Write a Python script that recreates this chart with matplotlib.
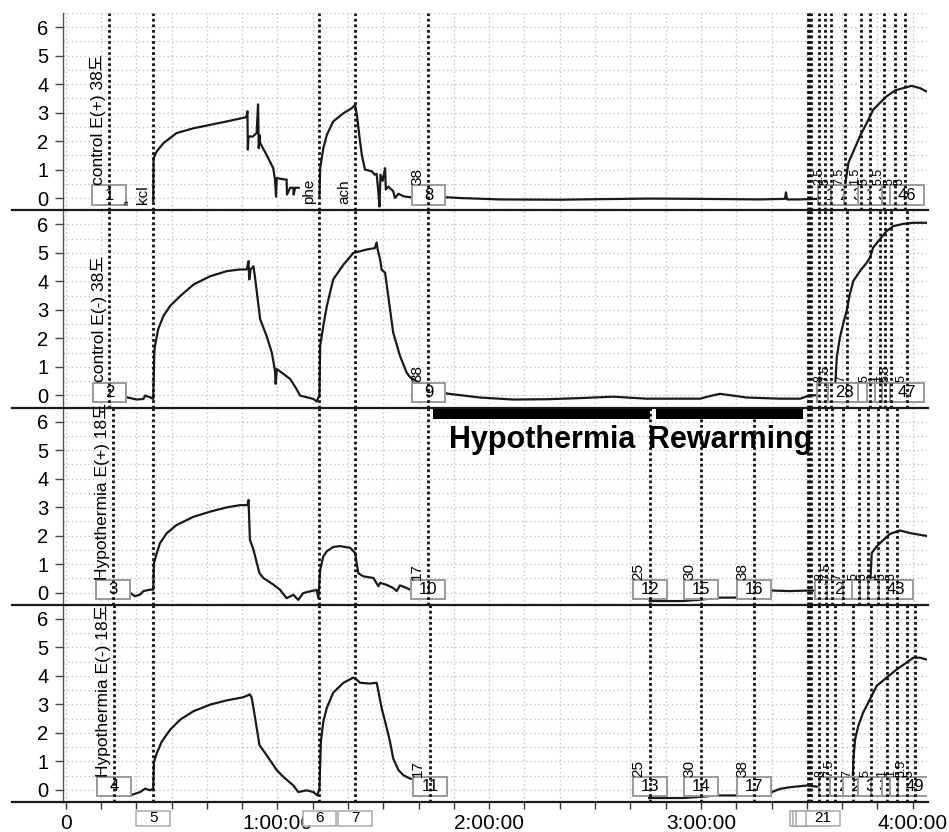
import numpy as np
import matplotlib
matplotlib.use("Agg")
import matplotlib.pyplot as plt
from matplotlib.patches import Rectangle
from matplotlib.lines import Line2D

plt.rcParams['font.family'] = ['Liberation Sans', 'Noto Sans CJK KR', 'DejaVu Sans']

# time in minutes, tension in g
NAN = (np.nan, np.nan)

trace_ctrl_pos = [
    (24.8, -0.10), (24.9, 1.40), (25.8, 1.64), (27.7, 1.93), (31.4, 2.28), (36.2, 2.45),
    (40.9, 2.57), (45.6, 2.69), (50.8, 2.83), (51.2, 2.85), (51.5, 3.05), (51.6, 1.70),
    (51.8, 2.16), (53.0, 2.16), (54.1, 2.28), (54.5, 3.29), (54.7, 1.75), (55.0, 2.20),
    (55.1, 1.93), (56.9, 1.52), (58.8, 1.05), (59.3, 0.65), (59.6, 0.05), (59.8, 0.70),
    (62.1, 0.65), (62.6, 0.65), (62.7, 0.12), (63.6, 0.36), (64.5, 0.36), (64.6, 0.12),
    (65.0, 0.36), (66.0, 0.36), NAN,
    (71.9, 0.06), (72.1, 1.05), (73.0, 1.75), (74.0, 2.22), (75.8, 2.69), (78.7, 2.98),
    (81.0, 3.15), (82.0, 3.27), (82.5, 2.92), (83.4, 1.99), (83.9, 1.52), (84.8, 1.00),
    (86.7, 0.94), (87.6, 0.82), (88.1, 0.85), (88.6, 0.20), (88.9, -0.30), (89.2, 0.82),
    (89.8, 0.60), (90.5, 1.05), (90.7, 0.30), (91.4, 0.40), (92.8, 0.24), (93.3, 0.00),
    (94.3, 0.15), (95.7, 0.06), (97.5, 0.03), (107.5, 0.03), (111.7, 0.00), (123.1, -0.05),
    (140.1, -0.06), (151.4, -0.04), (165.6, -0.02), (179.7, -0.03), (196.7, -0.05),
    (203.8, -0.03), (204.1, 0.20), (204.4, -0.05), (208.1, -0.05), (220.3, 0.00),
    (221.8, 1.24), (225.1, 2.18), (227.0, 2.64), (228.8, 3.10), (230.7, 3.34), (232.6, 3.57),
    (235.0, 3.78), (237.3, 3.86), (239.7, 3.94), (242.1, 3.86), (243.8, 3.75),
]

trace_ctrl_neg = [
    (12.4, -0.07), (17.3, -0.07), (20.1, -0.15), (22.0, -0.13), (22.5, -0.01), (23.9, -0.07),
    (24.8, -0.13), (25.1, 1.50), (25.3, 1.74), (26.2, 2.32), (27.7, 2.79), (29.6, 3.14),
    (32.4, 3.48), (36.2, 3.89), (40.9, 4.18), (45.6, 4.36), (49.4, 4.42), (51.3, 4.42),
    (51.8, 4.71), (52.0, 4.07), (52.4, 4.42), (53.2, 4.53), (53.6, 4.18), (55.1, 2.67),
    (56.9, 2.09), (58.4, 1.50), (59.3, 0.86), (59.5, 0.40), (59.8, 0.92), (61.7, 0.75),
    (63.6, 0.57), (65.4, 0.22), (66.4, -0.01), (68.3, -0.07), (70.2, -0.13), (71.1, -0.22),
    (71.9, 0.00), (72.1, 1.74), (73.0, 2.44), (74.0, 3.14), (75.8, 4.07), (78.7, 4.59),
    (81.5, 5.00), (85.3, 5.12), (87.6, 5.17), (88.1, 5.37), (88.4, 5.12), (89.1, 4.77),
    (89.5, 4.42), (90.5, 4.30), (91.4, 3.48), (92.8, 2.20), (94.7, 1.39), (96.6, 0.80),
    (97.6, 0.63), (102.0, 0.30), (108.0, 0.06), (117.4, -0.08), (126.7, -0.15),
    (136.3, -0.14), (145.7, -0.10), (155.1, -0.05), (164.6, -0.12), (174.3, -0.12),
    (179.7, -0.12), (183.5, 0.00), (185.4, 0.05), (193.0, -0.08), (202.4, -0.12),
    (208.1, -0.12), (210.9, 0.00), (217.9, 0.00), (218.5, 1.34), (219.4, 2.04),
    (220.3, 2.51), (221.3, 2.97), (222.2, 3.56), (223.2, 4.02), (225.1, 4.37), (227.0, 4.66),
    (227.9, 4.84), (228.8, 5.19), (230.7, 5.48), (232.6, 5.77), (234.5, 5.94), (237.3, 6.02),
    (240.2, 6.06), (244.0, 6.06),
]

trace_hypo_pos = [
    (13.4, 0.00), (18.2, 0.00), (19.6, -0.13), (21.1, -0.07), (22.0, 0.05), (23.9, 0.10),
    (24.8, 0.10), (25.0, 1.03), (25.8, 1.38), (26.7, 1.73), (28.6, 2.08), (31.4, 2.37),
    (36.2, 2.66), (40.9, 2.84), (45.6, 2.99), (49.4, 3.07), (51.5, 3.07), (51.8, 3.25),
    (52.2, 1.85), (53.2, 1.50), (54.9, 0.68), (56.0, 0.51), (58.8, 0.28), (60.7, 0.10),
    (62.6, -0.20), (64.5, -0.08), (65.9, -0.26), (67.3, -0.02), (69.2, 0.04), (71.1, 0.09),
    (71.6, -0.20), (72.1, 0.80), (73.0, 1.27), (74.0, 1.45), (75.8, 1.60), (77.7, 1.63),
    (80.6, 1.57), (82.0, 1.39), (82.9, 0.68), (84.3, 0.57), (87.2, 0.51), (88.6, 0.22),
    (89.1, 0.34), (90.9, 0.27), (92.8, 0.16), (93.8, 0.05), (94.7, 0.25), (96.6, 0.16),
    (97.6, 0.10), (103.0, 0.10), NAN,
    (165.5, -0.30), (171.2, -0.30), (174.9, -0.30), (180.0, -0.25), (185.2, -0.18),
    (189.6, -0.18), (195.0, -0.05), (200.1, 0.07), (205.0, 0.05), (210.9, 0.07),
    (220.0, 0.05), (227.9, 0.10), (228.4, 1.39), (229.8, 1.62), (231.7, 1.85), (233.6, 2.06),
    (236.4, 2.18), (239.2, 2.09), (243.8, 1.99),
]

trace_hypo_neg = [
    (13.4, -0.10), (18.7, -0.18), (21.1, -0.08), (22.5, 0.04), (23.9, -0.02), (24.8, 0.04),
    (25.0, 0.98), (25.8, 1.28), (27.2, 1.69), (29.6, 2.11), (32.4, 2.46), (36.2, 2.76),
    (40.9, 2.99), (45.6, 3.14), (50.3, 3.25), (52.2, 3.35), (52.7, 3.23), (53.2, 2.88),
    (54.9, 1.57), (56.9, 1.22), (59.8, 0.69), (61.7, 0.45), (64.5, 0.15), (65.9, -0.08),
    (68.3, -0.02), (70.2, -0.08), (71.3, -0.20), (71.9, 0.04), (72.3, 1.69), (73.0, 2.40),
    (74.0, 2.88), (75.8, 3.41), (78.7, 3.76), (81.5, 3.94), (82.0, 3.92), (83.4, 3.76),
    (86.2, 3.73), (88.1, 3.76), (88.6, 3.47), (89.5, 2.88), (90.5, 2.40), (91.9, 1.69),
    (92.8, 1.10), (94.3, 0.69), (95.7, 0.51), (97.6, 0.39), (103.0, 0.30), NAN,
    (165.3, -0.29), (170.3, -0.29), (174.9, -0.29), (180.0, -0.25), (184.5, -0.20),
    (190.1, -0.20), (195.0, -0.15), (200.1, -0.08), (202.4, 0.03), (205.2, 0.09),
    (210.0, 0.15), (213.7, 0.10), (222.3, 0.10), (223.0, 0.28), (223.2, 1.08), (223.7, 1.78),
    (224.6, 2.25), (226.0, 2.72), (227.9, 3.18), (229.8, 3.65), (232.6, 3.94), (235.5, 4.23),
    (238.3, 4.47), (240.2, 4.64), (242.1, 4.64), (243.8, 4.58),
]

traces = [trace_ctrl_pos, trace_ctrl_neg, trace_hypo_pos, trace_hypo_neg]
panel_names = ["control E(+) 38도", "control E(-) 38도", "Hypothermia E(+) 18도", "Hypothermia E(-) 18도"]
start_times = [12.3, 12.4, 13.4, 13.6]

# event marker times (minutes)
drug_events = [24.8, 71.9, 82.0]
wash_times = [102.8, 102.8, 102.6, 103.1]
temp_events = [165.5, 180.0, 195.0]
temp_labels = ["25", "30", "38"]
wash_labels = ["38", "38", "17", "17"]
shared_cluster = [210.2, 210.7, 211.2, 213.5]
cluster_events = [
    [215.1, 216.8, 220.9, 225.4, 227.9, 232.0, 235.0, 237.8],
    [215.1, 216.8, 221.3, 227.9, 230.7, 232.2, 233.9, 238.3],
    [215.4, 217.1, 220.3, 224.8, 227.4, 230.1, 232.8, 235.5],
    [215.6, 218.0, 223.0, 228.1, 232.8, 235.5, 238.3, 240.7],
]
cluster_doses = [
    ["2.5", "5", "7.5", "1.5", "5", "5.5", "5", "5"],
    ["8", "7.5", "7", "5", "1", "1", "5.5", "5"],
    ["8", "7.5", "7", "5", "5", "1", "5", "5"],
    ["8", "7.5", "7", "5", "1", "1", "5.5", "5"],
]
drug_names = ["kcl", "phe", "ach"]

# comment boxes (time, number)
boxes = [
    [(12.3, "1"), (102.8, "8"), (218.0, "18"), (221.7, "25"), (225.4, "32"), (229.3, "15"),
     (232.7, "39"), (236.1, "42"), (238.4, "46")],
    [(12.4, "2"), (102.8, "9"), (217.7, "22"), (220.8, "28"), (229.3, "33"), (231.9, "36"),
     (234.1, "40"), (236.1, "44"), (238.4, "47")],
    [(13.4, "3"), (102.6, "10"), (165.6, "12"), (180.0, "15"), (195.0, "16"), (217.1, "19"),
     (220.5, "23"), (225.1, "27"), (227.6, "31"), (229.9, "35"), (232.2, "39"), (235.3, "43")],
    [(13.7, "4"), (103.2, "11"), (165.5, "13"), (179.9, "14"), (195.0, "17"), (218.3, "20"),
     (221.4, "24"), (225.1, "29"), (229.3, "33"), (233.0, "37"), (236.1, "41"), (238.4, "45"),
     (240.7, "49")],
]
# stacked boxes under the axis: only the top one ("21") shows its number
bottom_boxes = [(24.8, "5"), (71.9, "6"), (82.0, "7"), (210.1, ""), (210.9, ""),
                (211.8, ""), (214.6, "21")]

phase_names = ["Hypothermia", "Rewarming"]
phase_start = [104.2, 167.3]
phase_end = [165.6, 209.0]

xtick_pos = [0, 60, 120, 180, 240]
xtick_labels = ["0", "1:00:00", "2:00:00", "3:00:00", "4:00:00"]

W, H = 949, 832
fig = plt.figure(figsize=(W / 100, H / 100), dpi=100)
left_px, right_px, top_px, bot_px = 63, 927, 13, 802
ph = (bot_px - top_px) / 4

dot = (0, (1, 1.0))
box_w = 9.6
axes = []
for i in range(4):
    y_top = top_px + ph * i
    ax = fig.add_axes([left_px / W, 1 - (y_top + ph) / H, (right_px - left_px) / W, ph / H])
    axes.append(ax)
    ax.set_xlim(-0.77, 244.06)
    ax.set_ylim(-0.43, 6.46)
    ax.set_xticks(xtick_pos)
    ax.set_xticks(np.arange(0, 245, 10), minor=True)
    ax.set_yticks(range(7))
    ax.set_yticks(np.arange(0, 6.6, 0.5), minor=True)
    ax.grid(True, which='both', color='#c4c4c4', lw=1.0, ls=(0, (1, 2)), zorder=0)
    ax.tick_params(axis='y', which='major', length=6, width=1, pad=4.5, labelsize=14.5, color='#444')
    ax.tick_params(axis='y', which='minor', length=0)
    for s in ['top', 'right', 'bottom']:
        ax.spines[s].set_visible(False)
    ax.spines['left'].set_color('#555')
    ax.spines['left'].set_linewidth(1.0)
    if i < 3:
        ax.tick_params(axis='x', which='both', length=0, labelbottom=False)
    else:
        ax.set_xticklabels(xtick_labels)
        ax.tick_params(axis='x', which='both', length=5, width=1, color='#333', pad=3.5, labelsize=15)

    tv = np.array(traces[i], dtype=float)
    ax.plot(tv[:, 0], tv[:, 1], color='#1a1a1a', lw=1.6, zorder=3)

    # event lines
    lines = [start_times[i]] + drug_events + [wash_times[i]] + shared_cluster + cluster_events[i]
    if i >= 2:
        lines += temp_events
    for t in lines:
        ax.axvline(t, color='#111', lw=2.0, ls=dot, zorder=5)

    # comment boxes
    for k, (t, lab) in enumerate(boxes[i]):
        z = 4 + k * 0.01
        ax.add_patch(Rectangle((t - box_w / 2, -0.23), box_w, 0.67, facecolor='white',
                               edgecolor='#9a9a9a', lw=1.4, zorder=z))
        ax.text(t, 0.1, lab, ha='center', va='center', fontsize=12, zorder=z + 0.005)

    # rotated labels
    ax.text(start_times[i] - 3.1, 0.45, panel_names[i], rotation=90, ha='center', va='bottom',
            fontsize=12.5, zorder=6)
    ax.text(wash_times[i] - 3.2, 0.45, wash_labels[i], rotation=90, ha='center', va='bottom',
            fontsize=11, zorder=6)
    for t, lab in zip(cluster_events[i], cluster_doses[i]):
        ax.text(t - 1.6, 0.45, lab, rotation=90, ha='center', va='bottom', fontsize=9, zorder=6)
    if i >= 2:
        for t, lab in zip(temp_events, temp_labels):
            ax.text(t - 3.2, 0.45, lab, rotation=90, ha='center', va='bottom', fontsize=11, zorder=6)

# drug names on the first panel
ax1 = axes[0]
for t, lab in zip(drug_events, drug_names):
    ax1.text(t - 3.0, -0.22, lab, rotation=90, ha='center', va='bottom', fontsize=11, zorder=6)
ax1.text(17.3, -0.25, "a", rotation=90, ha='center', va='bottom', fontsize=6, zorder=6)

# hypothermia / rewarming bars
ax3 = axes[2]
for name, s, e in zip(phase_names, phase_start, phase_end):
    ax3.broken_barh([(s, e - s)], (6.10, 0.36), facecolor='black', zorder=6)
    ax3.text((s + e) / 2, 5.35, name, ha='center', va='center', fontsize=22,
             fontweight='bold', zorder=7)

# comment boxes below the time axis
ax4 = axes[3]
for k, (t, lab) in enumerate(bottom_boxes):
    z = 8 + k * 0.01
    ax4.add_patch(Rectangle((t - box_w / 2, -1.26), box_w, 0.53, facecolor='white',
                            edgecolor='#a8a8a8', lw=1.1, zorder=z, clip_on=False))
    if lab:
        ax4.text(t, -0.99, lab, ha='center', va='center', fontsize=11, zorder=z + 0.005,
                 clip_on=False)

# panel separators
for ax in axes:
    y = ax.get_position().y0
    fig.add_artist(Line2D([12 / W, 928 / W], [y, y], color='#1a1a1a', lw=1.6))

fig.savefig("out.png", dpi=100)
